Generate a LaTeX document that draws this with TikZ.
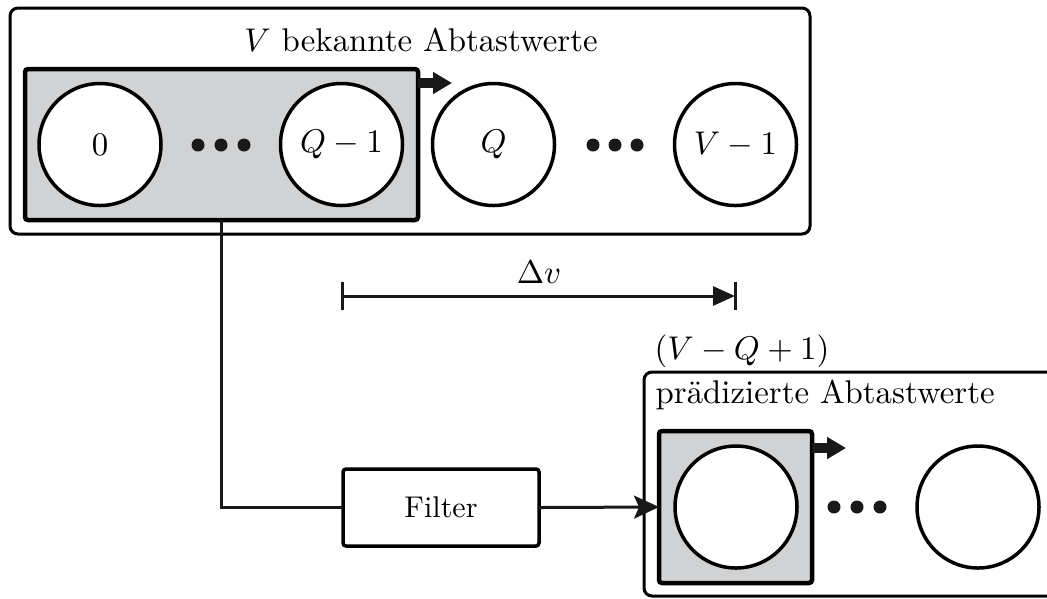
\documentclass[tikz,border=0pt]{standalone}
\usetikzlibrary{arrows.meta,calc}
\newdimen\pxu \pxu=0.333333pt
\definecolor{boxgray}{RGB}{209,210,212}
\tikzset{
  outerbox/.style={draw, line width=3\pxu, rounded corners=8\pxu, outer sep=0pt},
  graybox/.style={draw, line width=4.5\pxu, fill=boxgray, rounded corners=3\pxu, inner sep=0pt, outer sep=0pt},
  sample/.style={circle, draw, line width=3.5\pxu, fill=white, minimum size=122\pxu, inner sep=0pt},
  dotstyle/.style={circle, fill=black!90, minimum size=13\pxu, inner sep=0pt},
  conn/.style={line width=3\pxu, draw=black!90},
  fatarrow/.style={line width=9.5\pxu, draw=black!90, -{Triangle[length=6.33pt,width=7pt]}},
  filterbox/.style={draw, line width=3.5\pxu, rounded corners=3\pxu, minimum width=196\pxu, minimum height=77\pxu, inner sep=0pt, outer sep=0pt, font=\fontsize{10}{12}\selectfont},
}
\begin{document}
\begin{tikzpicture}[x=\pxu,y=-\pxu,font=\fontsize{10.95}{13.6}\selectfont]
\useasboundingbox (0,0) rectangle (1047,598);
% top group
\node[outerbox, minimum width=800\pxu, minimum height=226\pxu, inner sep=0pt] (top) at (410,121) {};
\node[anchor=base] (toptitle) at (421,51) {$V$ bekannte Abtastwerte};
\node[graybox, minimum width=393\pxu, minimum height=151\pxu] (g1) at (221.5,144.5) {};
\node[sample] (c0) at (100,144.5) {$0$};
\node[sample] (cq1) at (341.5,144.5) {$Q-1$};
\node[sample] (cq) at (493.5,144.5) {$Q$};
\node[sample] (cv1) at (735.5,144.5) {$V-1$};
\foreach \x [count=\i] in {198,221,244} \node[dotstyle] (da\i) at (\x,145) {};
\foreach \x [count=\i] in {593,615,637} \node[dotstyle] (db\i) at (\x,145) {};
\coordinate (a1s) at ($(g1.north east)+(0,14)$);
\coordinate (a1e) at ($(g1.north east)+(34,14)$);
\draw[fatarrow] (a1s) -- (a1e);
% delta v
\coordinate (d1) at (342,296);
\coordinate (d2) at (735,296);
\draw[conn, -{Triangle[length=7.33pt,width=6.33pt]}] (d1) -- (d2);
\draw[conn] ($(d1)+(0,-14)$) -- ($(d1)+(0,14)$);
\draw[conn] ($(d2)+(0,-14)$) -- ($(d2)+(0,14)$);
\node[anchor=base] (dv) at (539,283) {$\Delta v$};
% bottom group
\draw[line width=3\pxu, rounded corners=8\pxu] (1055,372) -- (644,372) -- (644,596) -- (1055,596);
\node[anchor=base west, inner sep=0pt] (cnt) at (654,359) {$(V-Q+1)$};
\node[anchor=base west, inner sep=0pt] (predtitle) at (655,403) {prädizierte Abtastwerte};
\node[graybox, minimum width=153\pxu, minimum height=152\pxu] (g2) at (735.5,507) {};
\node[sample] (p0) at (736,507) {};
\node[sample] (p1) at (978,507) {};
\foreach \x [count=\i] in {834,857,880} \node[dotstyle] (dc\i) at (\x,507) {};
\coordinate (a2s) at ($(g2.north east)+(0,17)$);
\coordinate (a2e) at ($(g2.north east)+(34,17)$);
\draw[fatarrow] (a2s) -- (a2e);
% filter
\node[filterbox] (filter) at (441,507.5) {Filter};
\draw[conn] (g1.south) |- (filter.west);
\draw[conn, -{Stealth[length=8.33pt,width=7.67pt,inset=1.67pt]}] (filter.east) -- (g2.west);
\end{tikzpicture}
\end{document}
